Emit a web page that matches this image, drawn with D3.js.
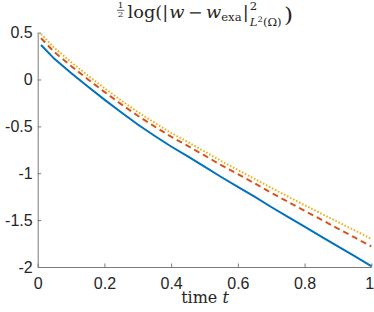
<!DOCTYPE html>
<html><head><meta charset="utf-8">
<script src="https://cdn.jsdelivr.net/npm/d3@7"></script>
<style>body{margin:0;background:#fff}svg{display:block}</style>
</head><body>
<svg id="c" width="374" height="312"></svg>
<script>
const times = [0.01,0.05,0.1,0.15,0.2,0.25,0.3,0.35,0.4,0.45,0.5,0.55,0.6,0.65,0.7,0.75,0.8,0.85,0.9,0.95,1.0];
const blueSeries = [0.368,0.22,0.07,-0.075,-0.215,-0.35,-0.48,-0.60,-0.715,-0.82,-0.93,-1.04,-1.145,-1.25,-1.36,-1.465,-1.57,-1.675,-1.78,-1.885,-1.99];
const orangeSeries = [0.44,0.292,0.144,0.003,-0.132,-0.263,-0.387,-0.501,-0.61,-0.708,-0.81,-0.913,-1.01,-1.107,-1.208,-1.304,-1.40,-1.495,-1.59,-1.685,-1.78];
const yellowSeries = [0.485,0.336,0.186,0.044,-0.092,-0.223,-0.347,-0.461,-0.57,-0.667,-0.768,-0.87,-0.965,-1.06,-1.155,-1.248,-1.34,-1.43,-1.52,-1.61,-1.70];
const xTicks = [0,0.2,0.4,0.6,0.8,1];
const xTickLabels = ["0","0.2","0.4","0.6","0.8","1"];
const yTicks = [0.5,0,-0.5,-1,-1.5,-2];
const yTickLabels = ["0.5","0","-0.5","-1","-1.5","-2"];

const svg = d3.select("#c");
const x = d3.scaleLinear().domain([0,1]).range([37.7,371.3]);
const y = d3.scaleLinear().domain([-2,0.5]).range([267,32.6]);
const axisColor = "#7a7a7a", textColor = "#262626";
const tickFont = "'Liberation Sans', Arial, Helvetica, sans-serif";

// axes
const xa = svg.append("g").attr("transform",`translate(0,${y(-2)})`)
  .call(d3.axisBottom(x).tickValues(xTicks).tickFormat((d,i)=>xTickLabels[i]).tickSizeInner(-3.5).tickSizeOuter(0).tickPadding(11));
const ya = svg.append("g").attr("transform",`translate(${x(0)},0)`)
  .call(d3.axisLeft(y).tickValues(yTicks).tickFormat((d,i)=>yTickLabels[i]).tickSizeInner(-3.5).tickSizeOuter(0).tickPadding(5));
[xa,ya].forEach(a=>{
  a.select(".domain").attr("stroke",axisColor).attr("stroke-width",1);
  a.selectAll(".tick line").attr("stroke",axisColor).attr("stroke-width",1);
  a.selectAll(".tick text").attr("fill",textColor).attr("font-family",tickFont).attr("font-size",16);
});
xa.selectAll(".tick text").filter((d,i)=>i===xTicks.length-1).attr("dx",-2.2);

const line = d3.line().x((d,i)=>x(times[i])).y(d=>y(d));
const g = svg.append("g");
g.append("path").datum(blueSeries).attr("d",line).attr("fill","none").attr("stroke","#0072BD").attr("stroke-width",2);
g.append("path").datum(orangeSeries).attr("d",line).attr("fill","none").attr("stroke","#D95319").attr("stroke-width",2).attr("stroke-dasharray","6,4");
g.append("path").datum(yellowSeries).attr("d",line).attr("fill","none").attr("stroke","#EDB120").attr("stroke-width",2).attr("stroke-dasharray","1.6,1.8");

// x label
const serif = "'DejaVu Serif','Liberation Serif',serif";
const xl = svg.append("text").attr("x",205).attr("y",303).attr("text-anchor","middle")
  .attr("font-family",serif).attr("font-size",16).attr("fill",textColor);
xl.append("tspan").text("time ");
xl.append("tspan").attr("font-style","italic").text("t");

// title built piece by piece
const T = svg.append("g").attr("font-family",serif).attr("fill",textColor);
let cx = 0;
const base = 18.3, fs = 16, ss = 10.5;
function piece(txt, opts={}) {
  const t = T.append("text").attr("x",cx).attr("y",opts.y ?? base)
    .attr("font-size",opts.size ?? fs).text(txt);
  if (opts.italic) t.attr("font-style","italic");
  const w = t.node().getComputedTextLength();
  if (!opts.noAdvance) cx += w + (opts.gap ?? 0);
  return w;
}
// fraction 1/2
const fw = 6.5;
T.append("text").attr("x",cx+fw/2).attr("y",8).attr("font-size",8).attr("text-anchor","middle").text("1");
T.append("text").attr("x",cx+fw/2).attr("y",17.5).attr("font-size",8).attr("text-anchor","middle").text("2");
T.append("line").attr("x1",cx).attr("x2",cx+fw).attr("y1",10.3).attr("y2",10.3).attr("stroke",textColor).attr("stroke-width",0.7);
cx += fw + 3;
piece("log(|",{gap:1});
piece("w",{italic:true,gap:3});
piece("−",{gap:3});
piece("w",{italic:true});
piece("exa",{size:ss,y:21.2,gap:1});
piece("|",{gap:1});
const w2 = piece("2",{size:ss,y:10.3,noAdvance:true});
const L = T.append("text").attr("x",cx).attr("y",26).attr("font-size",ss);
L.append("tspan").attr("font-style","italic").text("L");
L.append("tspan").attr("font-size",7.5).attr("dy",-3.5).text("2");
L.append("tspan").attr("dy",3.5).text("(Ω)");
cx += Math.max(w2, L.node().getComputedTextLength()) + 2;
T.append("text").attr("x",cx).attr("y",22.5).attr("font-size",21).text(")");
const bb = T.node().getBBox();
const sx = 176 / bb.width;
T.attr("transform",`translate(${117 - bb.x*sx},0) scale(${sx},1)`);
</script>
</body></html>
